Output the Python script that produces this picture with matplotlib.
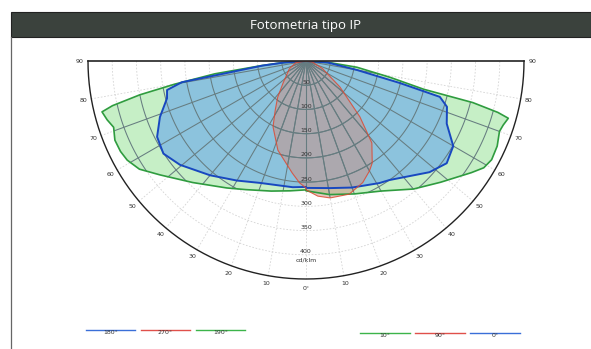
import numpy as np
import matplotlib
matplotlib.use("Agg")
import matplotlib.pyplot as plt
from matplotlib.patches import Polygon, Rectangle
from matplotlib.collections import LineCollection

# ---------------- data (cd/klm vs gamma angle) ----------------
title = "Fotometria tipo IP"
unit = "cd/klm"

green_left_deg = [90, 86, 84, 82, 80, 78.5, 77, 76, 73.5, 71, 67.5, 64, 61, 57, 52, 43, 32, 25, 15, 7, 0]
green_left_cd = [0, 50, 95, 190, 275, 350, 410, 434, 428, 420, 427, 426, 422, 410, 382, 343, 309, 293, 278, 270, 266]
green_right_deg = [0, 10, 20, 30, 40, 48, 56, 59, 62, 66, 70, 72, 74.2, 75, 76, 76.5, 79, 83, 86, 90]
green_right_cd = [268, 280, 292, 310, 345, 374, 412, 428, 434, 432, 425, 428, 434, 410, 355, 250, 177, 106, 50, 0]

blue_left_deg = [90, 86, 84, 81.4, 80.3, 78.2, 75, 69, 63, 57, 50.5, 40, 30, 20.7, 6, 0]
blue_left_cd = [0, 45, 90, 165, 260, 293, 297, 323, 345, 351, 337, 308, 285, 269, 262, 260]
blue_right_deg = [0, 10.7, 20, 31, 35, 48, 54, 60, 66, 72, 75, 76.8, 80, 86, 90]
blue_right_cd = [262, 267, 278, 294, 300, 343, 359, 351, 318, 306, 286, 199, 107, 45, 0]

red_left_deg = [90, 80, 65, 46, 38, 32, 26.6, 17.5, 7, 3, 0]
red_left_cd = [0, 22, 38, 66, 95, 120, 152, 193, 233, 252, 262]
red_right_deg = [0, 5, 10, 18, 25, 30, 33, 38.8, 44, 52.6, 65, 80, 90]
red_right_cd = [266, 280, 287, 289, 277, 262, 251, 217, 160, 88, 38, 14, 0]

ring_values = [50, 100, 150, 200, 250, 300, 350, 400]
r_max = 450
angle_ticks = [10, 20, 30, 40, 50, 60, 70, 80, 90]

legend_left = [("180°", "blue"), ("270°", "red"), ("190°", "green")]
legend_right = [("10°", "green"), ("90°", "red"), ("0°", "blue")]

# ---------------- styles ----------------
fill_col = {"green": "#c6efc6", "blue": "#8cc3dd", "red": (0.80, 0.56, 0.50, 0.5)}
edge_col = {"green": "#2f9c3f", "blue": "#1848c0", "red": "#dc4a34"}
edge_lw = {"green": 1.2, "blue": 1.4, "red": 0.8}
leg_col = {"green": "#3cb44a", "blue": "#3a6fd8", "red": "#e0504a"}

W, H = 591, 349
fig = plt.figure(figsize=(W / 100, H / 100), dpi=100)
fig.patch.set_facecolor("white")

bg = fig.add_axes([0, 0, 1, 1])
bg.set_xlim(0, W)
bg.set_ylim(H, 0)
bg.axis("off")

# header bar + frame
bg.add_patch(Rectangle((11, 12), W - 11, 25, facecolor="#3b423d", edgecolor="#222", lw=0.8))
bg.text(306, 25, title, color="white", fontsize=9.5, family="Open Sans", ha="center", va="center")
bg.plot([11, 11], [37, H], color="#666", lw=0.9)

# polar diagram axes: centre at pixel (306,61), radius 218 px for 450 cd/klm
cx, cy, rad = 306, 61, 218
ax = fig.add_axes([(cx - rad) / W, (H - cy - rad) / H, 2 * rad / W, rad / H])
ax.set_xlim(-r_max, r_max)
ax.set_ylim(-r_max, 0)
ax.axis("off")


def to_xy(deg, cd, side):
    th = np.radians(np.asarray(deg, dtype=float))
    cd = np.asarray(cd, dtype=float)
    return side * cd * np.sin(th), -cd * np.cos(th)


def curve(ldeg, lcd, rdeg, rcd):
    xl, yl = to_xy(ldeg, lcd, -1)
    xr, yr = to_xy(rdeg, rcd, 1)
    return np.column_stack([np.concatenate([xl, xr]), np.concatenate([yl, yr])])


# grid segments
th_full = np.linspace(-90, 90, 181)
grid_segs = []
for rv in ring_values:
    x, y = to_xy(np.abs(th_full), np.full_like(th_full, rv), np.sign(th_full))
    grid_segs.append(np.column_stack([x, y]))
for a in range(-80, 90, 10):
    x, y = to_xy([abs(a), abs(a)], [0, r_max], 1 if a >= 0 else -1)
    grid_segs.append(np.column_stack([x, y]))

ax.add_collection(LineCollection(grid_segs, colors="#d4d4d4", lw=0.6, linestyles=(0, (2, 2)), zorder=1))

pg = Polygon(curve(green_left_deg, green_left_cd, green_right_deg, green_right_cd), closed=True,
             facecolor=fill_col["green"], edgecolor="none", zorder=2)
pb = Polygon(curve(blue_left_deg, blue_left_cd, blue_right_deg, blue_right_cd), closed=True,
             facecolor=fill_col["blue"], edgecolor="none", zorder=3)
pr = Polygon(curve(red_left_deg, red_left_cd, red_right_deg, red_right_cd), closed=True,
             facecolor=fill_col["red"], edgecolor="none", zorder=4)
for p in (pg, pb, pr):
    ax.add_patch(p)

for clip in (pg, pr):
    lc = LineCollection(grid_segs, colors="#667c80", lw=0.75, zorder=5)
    ax.add_collection(lc)
    lc.set_clip_path(clip)

for key, (ld, lc_, rd, rc) in {
    "green": (green_left_deg, green_left_cd, green_right_deg, green_right_cd),
    "blue": (blue_left_deg, blue_left_cd, blue_right_deg, blue_right_cd),
    "red": (red_left_deg, red_left_cd, red_right_deg, red_right_cd),
}.items():
    pts = curve(ld, lc_, rd, rc)
    ax.plot(pts[:, 0], pts[:, 1], color=edge_col[key], lw=edge_lw[key], zorder=6,
            solid_joinstyle="round", alpha=0.85 if key == "red" else 1.0)

# outer boundary
x, y = to_xy(np.abs(th_full), np.full_like(th_full, r_max), np.sign(th_full))
ax.plot(x, y, color="#222", lw=1.0, zorder=7, clip_on=False)
ax.plot([-r_max, r_max], [0, 0], color="#222", lw=1.2, zorder=7, clip_on=False)

# radial labels
for rv in ring_values:
    ax.text(0, -rv + 6, str(rv), fontsize=4.5, ha="center", va="center", color="#333", zorder=8)
ax.text(0, -ring_values[-1] - 11, unit, fontsize=4.5, ha="center", va="center", color="#333", zorder=8)

# angle labels
for a in angle_ticks:
    for side in (-1, 1):
        x, y = to_xy([a], [r_max + 17], side)
        ax.text(x[0], y[0], str(a), fontsize=4.5, ha="center", va="center", color="#333", clip_on=False)
x, y = to_xy([0], [r_max + 20], 1)
ax.text(x[0], y[0], "0°", fontsize=4.5, ha="center", va="center", color="#333", clip_on=False)


# legend
def legend_row(items, x0, y0, step, length):
    for i, (lab, key) in enumerate(items):
        xs = x0 + i * step
        bg.plot([xs, xs + length], [y0, y0], color=leg_col[key], lw=1.0)
        bg.text(xs + length / 2, y0 + 2.5, lab, fontsize=4.5, ha="center", va="center", color="#333")


legend_row(legend_left, 86, 330, 55, 49)
legend_row(legend_right, 360, 333, 55, 50)

fig.savefig("out.png", dpi=100, facecolor="white")
